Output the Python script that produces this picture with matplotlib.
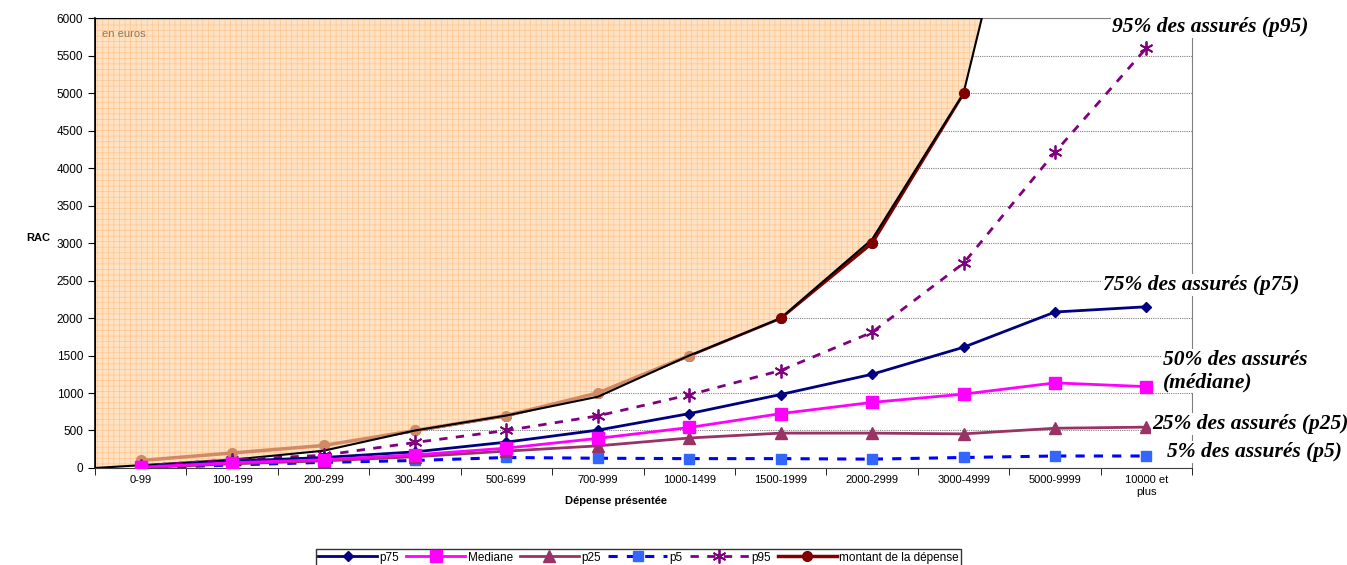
import numpy as np
import matplotlib
matplotlib.use("Agg")
import matplotlib.pyplot as plt

# categories de depense
categories = ["0-99", "100-199", "200-299", "300-499", "500-699", "700-999",
              "1000-1499", "1500-1999", "2000-2999", "3000-4999", "5000-9999",
              "10000 et\nplus"]

# percentiles du reste a charge (RAC)
p75 = [15, 90, 140, 215, 345, 505, 725, 980, 1250, 1610, 2080, 2150]
mediane = [10, 70, 110, 175, 265, 395, 540, 725, 875, 985, 1135, 1085]
p25 = [5, 55, 95, 150, 225, 295, 400, 465, 465, 455, 530, 545]
p5 = [0, 40, 75, 100, 140, 130, 125, 125, 118, 140, 160, 160]
p95 = [30, 110, 170, 340, 500, 695, 975, 1300, 1810, 2730, 4210, 5600]
montant = [100, 200, 300, 500, 700, 1000, 1500, 2000, 3000, 5000]

# contour de la zone orange (au-dessus de la depense)
zone_x = [-0.5, 1, 2, 3, 4, 5, 6, 7, 8, 9, 9.2, -0.5]
zone_y = [0, 110, 230, 500, 700, 950, 1500, 2000, 3050, 5000, 6000, 6000]

plt.rcParams['font.family'] = ['Liberation Sans', 'DejaVu Sans']
plt.rcParams['hatch.linewidth'] = 0.5

fig = plt.figure(figsize=(13.47, 5.65), dpi=100)
ax = fig.add_axes([0.0705, 0.1717, 0.8145, 0.7963])

x = np.arange(len(categories))
xm = np.arange(len(montant))

# zone de la depense
ax.fill(zone_x, zone_y, facecolor='#FFE2C4', edgecolor='none', zorder=2)
ax.fill(zone_x, zone_y, facecolor='none', edgecolor='#FFC58C', hatch='+++',
        linewidth=0, zorder=2.1)
l_mont, = ax.plot(xm, montant, color='#800000', lw=2.5, marker='o', ms=7,
                  zorder=1.9, label='montant de la dépense')
# partie de la courbe vue a travers la zone hachuree
ax.plot(xm[:7], montant[:7], color='#D08A66', lw=2.5, marker='o', ms=7,
        zorder=2.2)
ax.fill(zone_x, zone_y, facecolor='none', edgecolor='black',
        linewidth=1.5, zorder=3)
ax.plot(xm[7:], montant[7:], color='#800000', lw=0, marker='o', ms=7, zorder=3.1)

l75, = ax.plot(x, p75, color='#000080', lw=2, marker='D', ms=5.5, zorder=5, label='p75')
lmed, = ax.plot(x, mediane, color='#FF00FF', lw=2, marker='s', ms=8, zorder=5,
                label='Mediane')
l25, = ax.plot(x, p25, color='#993366', lw=2, marker='^', ms=8, zorder=4.5, label='p25')
l5, = ax.plot(x, p5, color='#0000FF', lw=2.2, ls=(0, (3, 3)), marker='s', ms=7,
              mfc='#3366FF', mec='#3366FF', zorder=4.4, label='p5')
l95, = ax.plot(x, p95, color='#800080', lw=2, ls=(0, (3, 3)), marker=(6, 2, 0),
               ms=10, mew=1.3, zorder=4.6, label='p95')

ax.set_xlim(-0.5, len(categories) - 0.5)
ax.set_ylim(0, 6000)
ax.set_yticks(np.arange(0, 6001, 500))
ax.set_xticks(x)
ax.set_xticklabels(categories, fontsize=8)
ax.set_xticks(np.arange(-0.5, len(categories), 1), minor=True)
ax.tick_params(axis='x', which='major', length=0, pad=5)
ax.tick_params(axis='x', which='minor', length=5, direction='out')
ax.tick_params(axis='y', labelsize=8.5, length=5, direction='out')

ax.grid(axis='y', color='#808080', ls=(0, (1, 1)), lw=0.8, zorder=0)
ax.spines['top'].set_color('#808080')
ax.spines['right'].set_color('#808080')
ax.spines['left'].set_linewidth(1.2)
ax.spines['bottom'].set_color('#404040')

ax.set_xlabel('Dépense présentée', fontsize=8, fontweight='bold')
ax.xaxis.set_label_coords(0.475, -0.062)
ax.set_ylabel('RAC', fontsize=8, fontweight='bold', rotation=0)
ax.yaxis.set_label_coords(-0.052, 0.5)

ax.text(0.006, 0.975, 'en euros', transform=ax.transAxes, fontsize=8,
        color='#8C7A6A', va='top', zorder=6)

# etiquettes des courbes
serif = dict(family=['Liberation Serif', 'DejaVu Serif'], fontsize=15.5,
             fontweight='bold', style='italic')
box = dict(facecolor='white', edgecolor='none', pad=1)


def lab(px, py, s):
    fig.text(px / 1347, 1 - py / 565, s, ha='left', va='center', bbox=box, **serif)


lab(1112, 27, '95% des assurés (p95)')
lab(1103, 285, '75% des assurés (p75)')
lab(1163, 360, '50% des assurés')
lab(1163, 382, '(médiane)')
lab(1152, 424, '25% des assurés (p25)')
lab(1167, 452, '5% des assurés (p5)')

handles = [l75, lmed, l25, l5, l95, l_mont]
leg = fig.legend(handles, [h.get_label() for h in handles], loc='lower center',
                 bbox_to_anchor=(0.474, -0.012), ncol=6, fontsize=8.5,
                 frameon=True, fancybox=False, edgecolor='black',
                 handlelength=5, columnspacing=0.6, handletextpad=0.2,
                 borderpad=0.2)
leg.get_frame().set_linewidth(1)

fig.savefig('out.png', dpi=100)
